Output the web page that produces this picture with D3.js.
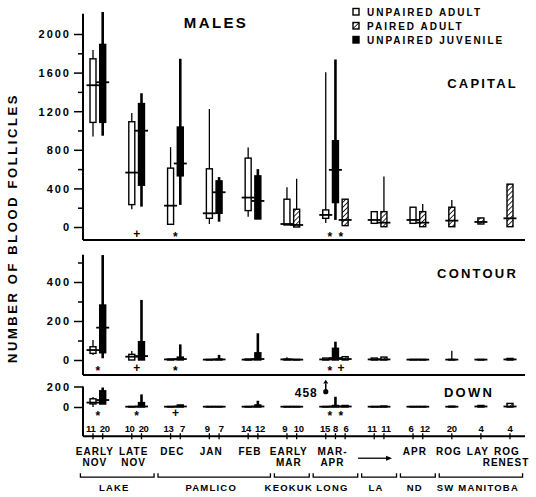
<!DOCTYPE html>
<html>
<head>
<meta charset="utf-8">
<script src="https://cdn.jsdelivr.net/npm/d3@7"></script>
<style>
body {margin: 0; background: white;}
svg text {font-family: "Liberation Sans", Arial, sans-serif; font-weight: bold; fill: black;}
.axis text {font-size: 11px; letter-spacing: 2px;}
.axis line {stroke: black; stroke-width: 1.5px;}
</style>
</head>
<body>
<svg width="536" height="497"></svg>
<script>
// U = unpaired adult, P = paired adult, J = unpaired juvenile
var groupKinds = [["U","J"],["U","J"],["U","J"],["U","J"],["U","J"],["U","P"],["U","J","P"],["U","P"],["U","P"],["P"],["P"],["P"]];
var sampleSizes = [[11,20],[10,20],[13,7],[9,7],[14,12],[9,10],[15,8,6],[11,11],[6,12],[20],[4],[4]];
var periodLabels = [["EARLY","NOV"],["LATE","NOV"],["DEC"],["JAN"],["FEB"],["EARLY","MAR"],["MAR-","APR"],[],["APR"],["ROG"],["LAY"],["ROG","RENEST"]];
var siteLabels = [["LAKE","MATTA"],["PAMLICO","SOUND"],["KEOKUK"],["LONG","PT"],["LA","CROSSE"],["ND"],["SW MANITOBA"]];
var siteGroups = [[0,1],[2,4],[5,5],[6,6],[7,7],[8,8],[9,11]];

// [min, q1, median, q3, max] for each box, left to right
var capital = [
  [939,1084,1469,1743,1833],[946,1084,1500,1892,2228],
  [184,232,564,1091,1182],[211,433,998,1279,1386],
  [28,28,221,610,828],[229,530,658,1036,1743],
  [31,90,142,603,1223],[55,142,360,478,517],
  [107,170,305,714,824],[83,83,270,530,600],
  [21,21,31,288,413],[0,0,21,184,499],
  [42,90,125,177,1604],[73,253,592,894,1736],[14,14,73,288,288],
  [38,38,73,159,159],[3,3,45,159,523],
  [38,38,73,205,205],[0,3,45,159,239],
  [0,3,66,205,281],
  [31,31,52,94,94],
  [3,3,90,444,444]
];
var contour = [
  [26,34,51,68,103],[9,37,166,282,538],
  [0,0,17,29,46],[0,0,20,94,308],
  [0,0,3,5,5],[0,0,5,15,80],
  [0,0,2,3,3],[0,0,3,5,26],
  [0,0,2,5,5],[0,0,5,37,137],
  [0,0,3,5,14],[0,0,2,3,3],
  [0,0,3,10,10],[0,0,10,60,94],[0,0,5,17,17],
  [0,0,3,10,10],[0,0,3,15,15],
  [0,0,2,3,3],[0,0,2,3,3],
  [0,0,2,3,48],
  [0,0,2,3,3],
  [0,0,3,8,8]
];
var down = [
  [0,30,43,80,97],[29,29,68,158,190],
  [0,0,3,5,5],[0,0,5,43,123],
  [0,0,3,5,5],[0,0,5,20,20],
  [0,0,3,5,5],[0,0,3,5,5],
  [0,0,3,5,5],[0,0,5,20,61],
  [0,0,3,5,5],[0,0,3,5,5],
  [0,0,3,5,5],[0,0,5,15,100],[0,0,5,15,15],
  [0,0,3,5,5],[0,0,3,10,10],
  [0,0,3,5,5],[0,0,3,5,5],
  [0,0,3,8,8],
  [0,0,5,15,15],
  [0,0,5,35,35]
];
var downOutlier = {box: 12, value: 458};

// significance marks under each panel: [group, symbols]
var capitalMarks = [[1,"+"],[2,"*"],[6,"**"]];
var contourMarks = [[0,"*"],[1,"+"],[2,"*"],[6,"*+"]];
var downMarks = [[0,"*"],[1,"*"],[2,"+"],[6,"**"]];

var svg = d3.select("svg");
var left = 83, right = 525;

// slots: each box is one slot, two empty slots between groups
var boxes = [], slots = [];
groupKinds.forEach(function(kinds, g) {
  kinds.forEach(function(k, j) {
    var id = "b" + boxes.length;
    boxes.push({id: id, group: g, kind: k, n: sampleSizes[g][j], j: j, count: kinds.length});
    slots.push(id);
  });
  if (g < groupKinds.length - 1) slots.push("g" + g + "a", "g" + g + "b");
});
var x = d3.scalePoint().domain(slots).range([93, 510]);
var step = x.step();
function groupCenter(g) {
  var bs = boxes.filter(function(b) { return b.group == g; });
  return d3.mean(bs, function(b) { return x(b.id); });
}

var defs = svg.append("defs");
var pat = defs.append("pattern").attr("id", "hatch")
  .attr("width", 3.5).attr("height", 3.5)
  .attr("patternUnits", "userSpaceOnUse")
  .attr("patternTransform", "rotate(45)");
pat.append("rect").attr("width", 3.5).attr("height", 3.5).attr("fill", "white");
pat.append("line").attr("x1", 0).attr("y1", 0).attr("x2", 0).attr("y2", 3.5)
  .attr("stroke", "black").attr("stroke-width", 1.6);

function fillFor(k) { return k == "J" ? "black" : (k == "P" ? "url(#hatch)" : "white"); }

var panels = [
  {stats: capital, y: d3.scaleLinear().domain([0,2000]).range([227,34]), extent: [-135,2210],
   major: [0,400,800,1200,1600,2000], minor: [200,600,1000,1400,1800], marks: capitalMarks, markAt: -75},
  {stats: contour, y: d3.scaleLinear().domain([0,400]).range([360,282]), extent: [-77,540],
   major: [0,200,400], minor: [100,300,500], marks: contourMarks, markAt: -42},
  {stats: down, y: d3.scaleLinear().domain([0,200]).range([407,386.5]), extent: [-285,200],
   major: [0,200], minor: [], marks: downMarks, markAt: -62}
];

panels.forEach(function(p) {
  var y = p.y;
  var ga = svg.append("g").attr("class", "axis").attr("transform", "translate(" + left + ",0)");
  ga.call(d3.axisLeft(y).tickValues(p.major).tickSize(9).tickPadding(3).tickFormat(d3.format("d")));
  ga.selectAll(".domain").remove();
  ga.selectAll("text").attr("dy", "0.36em");
  var gm = svg.append("g").attr("class", "axis").attr("transform", "translate(" + left + ",0)");
  gm.call(d3.axisLeft(y).tickValues(p.minor).tickSize(5).tickFormat(""));
  gm.selectAll(".domain").remove();

  svg.append("line").attr("x1", left).attr("x2", left)
    .attr("y1", y(p.extent[1])).attr("y2", y(p.extent[0]))
    .attr("stroke", "black").attr("stroke-width", 2);
  svg.append("line").attr("x1", left).attr("x2", right)
    .attr("y1", y(p.extent[0])).attr("y2", y(p.extent[0]))
    .attr("stroke", "black").attr("stroke-width", 2);

  var g = svg.append("g");
  boxes.forEach(function(b, i) {
    var s = p.stats[i], cx = x(b.id);
    g.append("line").attr("x1", cx).attr("x2", cx)
      .attr("y1", y(s[0])).attr("y2", y(s[4]))
      .attr("stroke", "black").attr("stroke-width", b.kind == "J" ? 2.6 : 1.3);
    if (s[3] > s[1]) {
      g.append("rect").attr("x", cx - 3).attr("width", 6)
        .attr("y", y(s[3])).attr("height", y(s[1]) - y(s[3]))
        .attr("fill", fillFor(b.kind)).attr("stroke", "black").attr("stroke-width", 1.4);
    }
    g.append("line").attr("x1", cx - 6.5).attr("x2", cx + 6.5)
      .attr("y1", y(s[2])).attr("y2", y(s[2]))
      .attr("stroke", "black").attr("stroke-width", 1.8);
  });

  p.marks.forEach(function(m) {
    var cx = groupCenter(m[0]), chars = m[1].split("");
    chars.forEach(function(c, j) {
      svg.append("text")
        .attr("x", cx + (j - (chars.length - 1) / 2) * 11)
        .attr("y", y(p.markAt) + (c == "*" ? 7 : 4))
        .attr("text-anchor", "middle")
        .style("font-size", "12px")
        .text(c);
    });
  });
});

// off-scale value in the DOWN panel
var yd = panels[2].y, ox = x(boxes[downOutlier.box].id);
svg.append("circle").attr("cx", ox).attr("cy", yd(150)).attr("r", 2.6).attr("fill", "black");
svg.append("line").attr("x1", ox).attr("x2", ox).attr("y1", yd(150)).attr("y2", yd(230))
  .attr("stroke", "black").attr("stroke-width", 1.5);
svg.append("path").attr("d", "M" + (ox - 2.5) + "," + yd(230) + "L" + ox + "," + yd(265) + "L" + (ox + 2.5) + "," + yd(230) + "Z")
  .attr("fill", "black");
svg.append("text").attr("x", ox - 8).attr("y", yd(100)).attr("text-anchor", "end")
  .style("font-size", "12px").style("letter-spacing", "1px").text(downOutlier.value);

// sample sizes and bottom ticks
var yBase = panels[2].y(panels[2].extent[0]);
boxes.forEach(function(b) {
  var gap = b.count == 3 ? 10.5 : 14;
  var nx = groupCenter(b.group) + (b.j - (b.count - 1) / 2) * gap;
  svg.append("text").attr("x", nx).attr("y", yBase - 4)
    .attr("text-anchor", "middle").style("font-size", "9.5px").style("letter-spacing", "-0.3px").text(b.n);
  svg.append("line").attr("x1", x(b.id)).attr("x2", x(b.id))
    .attr("y1", yBase - 3).attr("y2", yBase + 3).attr("stroke", "black").attr("stroke-width", 1.3);
});

// period labels
periodLabels.forEach(function(lines, g) {
  lines.forEach(function(t, j) {
    var tx = groupCenter(g) - 3;
    if (t == "RENEST") tx = groupCenter(g) - 4;
    svg.append("text").attr("x", tx).attr("y", yBase + 19 + j * 11)
      .attr("text-anchor", "middle").style("font-size", "10px").style("letter-spacing", "1px").text(t);
  });
});
// arrow for La Crosse, continuing MAR-APR
var ax0 = groupCenter(7) - 21, ax1 = groupCenter(7) + 13, ay = yBase + 22;
svg.append("line").attr("x1", ax0).attr("x2", ax1 - 4).attr("y1", ay).attr("y2", ay)
  .attr("stroke", "black").attr("stroke-width", 1.3);
svg.append("path").attr("d", "M" + (ax1 - 6) + "," + (ay - 2.5) + "L" + ax1 + "," + ay + "L" + (ax1 - 6) + "," + (ay + 2.5) + "Z")
  .attr("fill", "black");

// site brackets
var by = yBase + 41;
siteGroups.forEach(function(r, i) {
  var first = boxes.find(function(b) { return b.group == r[0]; });
  var last = boxes.filter(function(b) { return b.group == r[1]; }).pop();
  var x0 = x(first.id) - step * 1.4 + 1, x1 = x(last.id) + step * 1.4 - 1;
  svg.append("path").attr("d", "M" + x0 + "," + (by - 4) + "V" + by + "H" + x1 + "V" + (by - 4))
    .attr("fill", "none").attr("stroke", "black").attr("stroke-width", 1.3);
  siteLabels[i].forEach(function(t, j) {
    svg.append("text").attr("x", (x0 + x1) / 2 - 3).attr("y", by + 14 + j * 12)
      .attr("text-anchor", "middle").style("font-size", "9.5px").style("letter-spacing", "1.2px").text(t);
  });
});

// titles
svg.append("text").attr("x", 216).attr("y", 28).attr("text-anchor", "middle")
  .style("font-size", "15px").style("letter-spacing", "2.4px").text("MALES");
svg.append("text").attr("x", 518).attr("y", 88).attr("text-anchor", "end")
  .style("font-size", "13px").style("letter-spacing", "2.2px").text("CAPITAL");
svg.append("text").attr("x", 518).attr("y", 278).attr("text-anchor", "end")
  .style("font-size", "13px").style("letter-spacing", "2.2px").text("CONTOUR");
svg.append("text").attr("x", 469).attr("y", 397).attr("text-anchor", "middle")
  .style("font-size", "13px").style("letter-spacing", "2.2px").text("DOWN");
svg.append("text").attr("transform", "translate(17,228) rotate(-90)").attr("text-anchor", "middle")
  .style("font-size", "13px").style("letter-spacing", "2.6px").text("NUMBER OF BLOOD FOLLICLES");

// legend
var legend = [["U","UNPAIRED ADULT"],["P","PAIRED ADULT"],["J","UNPAIRED JUVENILE"]];
legend.forEach(function(l, i) {
  svg.append("rect").attr("x", 353).attr("y", 8.5 + i * 14).attr("width", 6).attr("height", 6.5)
    .attr("fill", fillFor(l[0])).attr("stroke", "black").attr("stroke-width", 1.4);
  svg.append("text").attr("x", 367).attr("y", 15.5 + i * 14)
    .style("font-size", "10px").style("letter-spacing", "2px").text(l[1]);
});
</script>
</body>
</html>
